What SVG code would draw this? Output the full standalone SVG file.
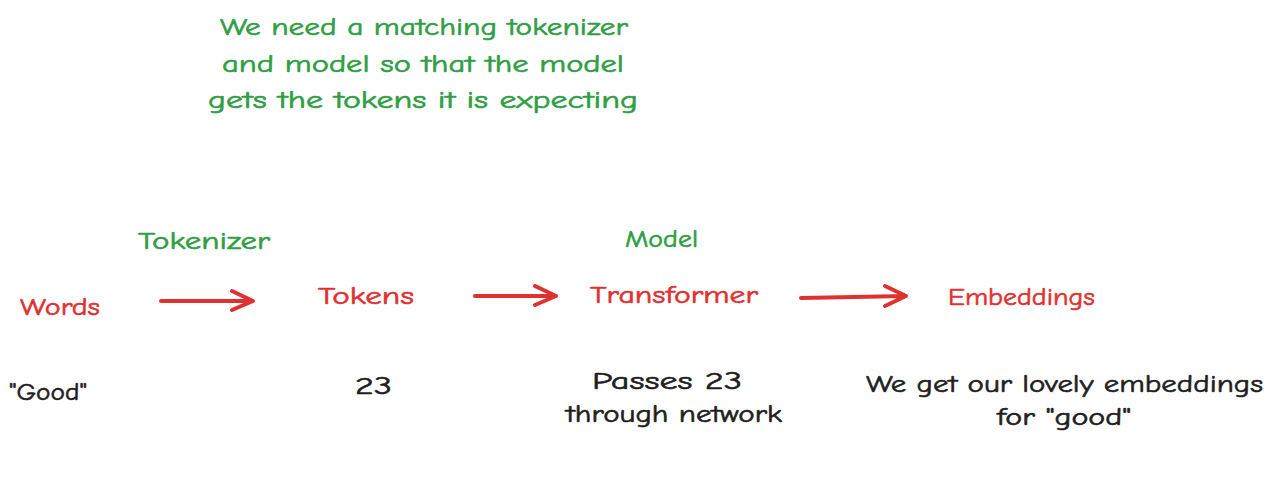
<svg xmlns="http://www.w3.org/2000/svg" width="1273" height="484" viewBox="0 0 1273 484">
<style>
text{font-family:"Comic Neue","Liberation Sans","DejaVu Sans",sans-serif;font-size:25px;stroke-width:0.6px}
.g{fill:#2f9e44;stroke:#2f9e44}
.r{fill:#e03131;stroke:#e03131}
.k{fill:#1e1e1e;stroke:#1e1e1e}
.arr{fill:none;stroke:#e03131;stroke-width:4;stroke-linecap:round;stroke-linejoin:round}
</style>
<rect width="1273" height="484" fill="#ffffff"/>
<g id="note">
<text class="g" x="220" y="35" textLength="408" lengthAdjust="spacingAndGlyphs">We need a matching tokenizer</text>
<text class="g" x="222" y="72" textLength="402" lengthAdjust="spacingAndGlyphs">and model so that the model</text>
<text class="g" x="208" y="108" textLength="430" lengthAdjust="spacingAndGlyphs">gets the tokens it is expecting</text>
</g>
<g id="tokenizer-label"><text class="g" x="138" y="249" textLength="132" lengthAdjust="spacingAndGlyphs">Tokenizer</text></g>
<g id="model-label"><text class="g" x="625" y="247" textLength="73" lengthAdjust="spacingAndGlyphs">Model</text></g>
<g id="words"><text class="r" x="20" y="315" textLength="80" lengthAdjust="spacingAndGlyphs">Words</text></g>
<g id="tokens"><text class="r" x="318" y="304" textLength="96" lengthAdjust="spacingAndGlyphs">Tokens</text></g>
<g id="transformer"><text class="r" x="590" y="303" textLength="168" lengthAdjust="spacingAndGlyphs">Transformer</text></g>
<g id="embeddings"><text class="r" x="948" y="305" textLength="147" lengthAdjust="spacingAndGlyphs">Embeddings</text></g>
<g id="good"><text class="k" x="9" y="400" textLength="78" lengthAdjust="spacingAndGlyphs">"Good"</text></g>
<g id="n23"><text class="k" x="355" y="394" textLength="37" lengthAdjust="spacingAndGlyphs">23</text></g>
<g id="passes">
<text class="k" x="592" y="389" textLength="150" lengthAdjust="spacingAndGlyphs">Passes 23</text>
<text class="k" x="566" y="422" textLength="216" lengthAdjust="spacingAndGlyphs">through network</text>
</g>
<g id="result">
<text class="k" x="866" y="392" textLength="397" lengthAdjust="spacingAndGlyphs">We get our lovely embeddings</text>
<text class="k" x="997" y="425" textLength="134" lengthAdjust="spacingAndGlyphs">for "good"</text>
</g>
<g id="connectors">
<path class="arr" d="M161 301 L253 301 M232 291 L253 301 L232 310"/>
<path class="arr" d="M475 296 L556 296 M535 286 L556 296 L535 305"/>
<path class="arr" d="M801 298 L906 296 M885 286 L906 296 L885 306"/>
</g>
</svg>
